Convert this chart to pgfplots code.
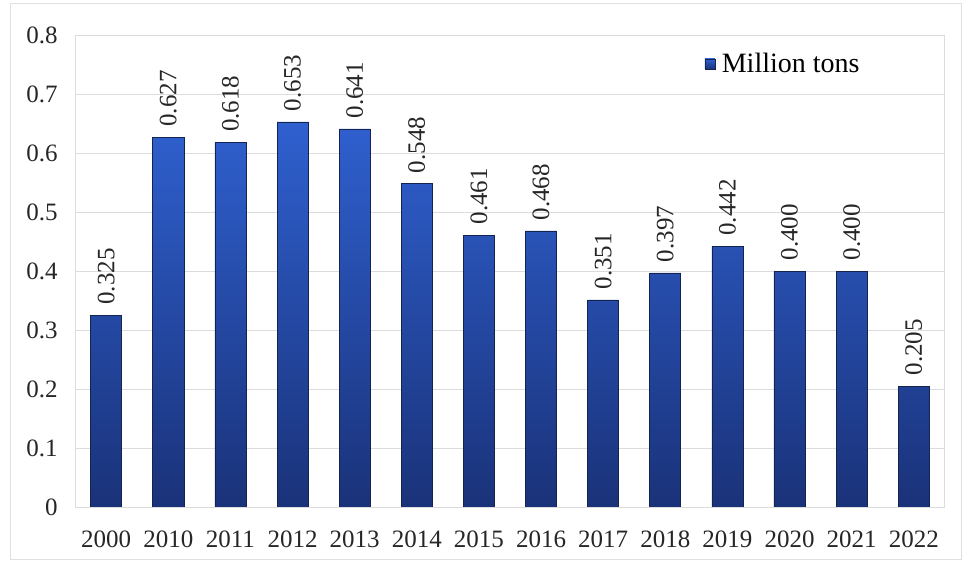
\documentclass[border=0pt]{standalone}
\usepackage{pgfplots}
\pgfplotsset{compat=1.18}
\usepackage{fontspec}
\setmainfont{Liberation Serif}
\definecolor{bartop}{HTML}{2F60CF}
\definecolor{barbot}{HTML}{1A3279}
\definecolor{baredge}{HTML}{15234F}
\definecolor{gridc}{HTML}{DCDCDC}
\begin{document}
\begin{tikzpicture}[x=1pt,y=1pt]
\draw[white] (0,0) rectangle (965,561);
\draw[gray!25, line width=1pt] (10,1) rectangle (962,558);
\begin{axis}[
  at={(75pt,54pt)}, anchor=south west,
  scale only axis, width=870pt, height=472pt,
  xmin=-0.5, xmax=13.5, ymin=0, ymax=0.8,
  xtick={0,...,13},
  xticklabels={2000,2010,2011,2012,2013,2014,2015,2016,2017,2018,2019,2020,2021,2022},
  ytick={0,0.1,...,0.8},
  yticklabels={0,0.1,0.2,0.3,0.4,0.5,0.6,0.7,0.8},
  ymajorgrids, grid style={gridc, line width=0.8pt},
  axis line style={gridc, line width=0.8pt},
  major tick length=0pt,
  tick label style={font=\fontsize{25}{28}\selectfont, text=black!85},
  yticklabel style={xshift=-14pt},
  xticklabel style={yshift=-20pt},
  legend style={at={(0.72,0.97)}, anchor=north west, draw=none, fill=none,
    font=\fontsize{28}{31}\selectfont, legend cell align=left},
  legend image code/.code={\path[draw=none, fill=none, shade=none] (0pt,0pt) (15pt,0pt); \fill[bartop!70!barbot, draw=baredge] (0pt,-5pt) rectangle (10pt,5pt);},
  nodes near coords,
  nodes near coords style={rotate=90, anchor=west, font=\fontsize{25}{28}\selectfont, text=black!85, xshift=7pt},
  point meta=explicit symbolic,
]
\addplot[ybar, bar width=0.5, top color=bartop, bottom color=barbot, draw=baredge, line width=0.7pt]
  coordinates {
  (0,0.325)[0.325] (1,0.627)[0.627] (2,0.618)[0.618] (3,0.653)[0.653] (4,0.641)[0.641]
  (5,0.548)[0.548] (6,0.461)[0.461] (7,0.468)[0.468] (8,0.351)[0.351] (9,0.397)[0.397]
  (10,0.442)[0.442] (11,0.400)[0.400] (12,0.400)[0.400] (13,0.205)[0.205]
  };
\addlegendentry{Million tons}
\end{axis}
\end{tikzpicture}
\end{document}
